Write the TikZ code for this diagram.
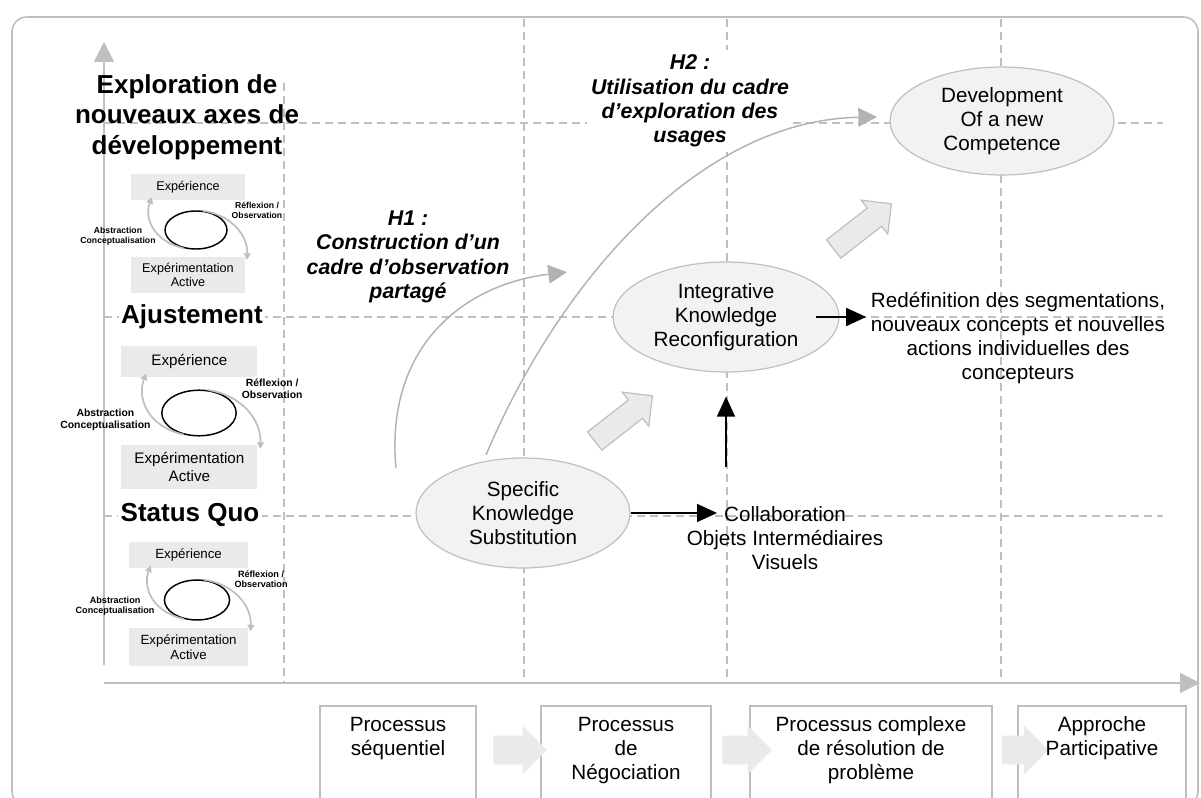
\documentclass[tikz,border=0pt]{standalone}
\usepackage{fontspec}
\setmainfont{Liberation Sans}
\usetikzlibrary{
    arrows.meta,
    positioning,
    shapes.geometric,
    shapes.arrows
}
\definecolor{linegray}{HTML}{BFBFBF}
\definecolor{curvegray}{HTML}{B2B2B2}
\definecolor{fillgray}{HTML}{F2F2F2}
\definecolor{boxgray}{HTML}{EAEAEA}
\newcommand{\mainsize}{\fontsize{15.5}{18}\selectfont}
\newcommand{\levelsize}{\fontsize{19.5}{23}\selectfont\bfseries}
\newcommand{\hyposize}{\fontsize{16}{18.2}\selectfont\bfseries\itshape}
\newcommand{\kolbsize}{\fontsize{9.5}{11}\selectfont}
\newcommand{\kolbnotesize}{\fontsize{6.5}{7.5}\selectfont\bfseries}
\tikzset{
    framebox/.style={draw=linegray, line width=1.2pt, rounded corners=11pt},
    gridline/.style={linegray, line width=1pt, dash pattern=on 6pt off 3.75pt},
    axisline/.style={-{Triangle[length=15pt, width=15pt]}, line width=1.5pt, linegray},
    stage/.style={ellipse, draw=linegray, fill=fillgray, line width=0.9pt,
        inner sep=0pt, align=center, font=\mainsize},
    plain/.style={align=center, font=\mainsize},
    level/.style={align=center, font=\levelsize, inner sep=2pt},
    hypo/.style={align=center, font=\hyposize},
    blackarrow/.style={-{Triangle[length=15pt, width=13.5pt]}, line width=1.1pt, black},
    hypoarrow/.style={-{Triangle[length=14pt, width=14pt]}, line width=1.1pt, curvegray},
    bigshift/.style={single arrow, draw=linegray, fill=boxgray, line width=0.9pt,
        inner xsep=0pt, inner ysep=8.25pt, single arrow head extend=7.5pt,
        minimum height=55pt, rotate=38},
    procbox/.style={draw=linegray, fill=white, line width=0.9pt, minimum height=78pt},
    proctext/.style={align=center, font=\mainsize, anchor=north},
    flowpointer/.style={single arrow, fill=boxgray, inner xsep=0pt, inner ysep=10.5pt,
        single arrow head extend=7.5pt},
    kolbbox/.style={fill=boxgray, minimum width=85pt, align=center, font=\kolbsize, inner sep=1pt},
    kolbloop/.style={ellipse, draw=black, line width=1.1pt, minimum width=46.5pt,
        minimum height=28.5pt, inner sep=0pt},
    kolbarc/.style={-{Triangle[length=5pt, width=5pt]}, line width=1.3pt, linegray},
    kolbnote/.style={align=center, font=\kolbnotesize, inner sep=0pt}
}
% one learning cycle: name, centre x, centre y, scale
\newcommand{\kolbcycle}[4]{%
    \begin{scope}[shift={(#2,#3)}, scale=#4, transform shape]
        \node[kolbbox, minimum height=19pt] (#1exp) at (-8,-43) {Expérience};
        \node[kolbbox, minimum height=27pt] (#1act) at (-8,45) {Expérimentation\\Active};
        \node[kolbloop] (#1loop) at (0,0) {};
        \coordinate (#1expin) at (-44,-33);
        \coordinate (#1actin) at (51,30);
        \draw[kolbarc] (#1loop.235) .. controls (-46,10) and (-51,-15) .. (#1expin);
        \draw[kolbarc] (#1loop.70) .. controls (35,-15) and (52,5) .. (#1actin);
        \node[kolbnote] (#1refl) at (61,-20) {Réflexion /\\Observation};
        \node[kolbnote] (#1abst) at (-78,6) {Abstraction\\Conceptualisation};
    \end{scope}}

\begin{document}
\begin{tikzpicture}[x=0.75pt, y=-0.75pt]
    \useasboundingbox (0,0) rectangle (1201,798);
    \clip (0,0) rectangle (1201,798);
    \draw[framebox] (12,17) rectangle (1198,806);
    % grid
    \foreach \gx/\gtop in {284/83, 524/19, 727/19, 1001/19}{
        \draw[gridline] (\gx,\gtop) -- (\gx,683);
    }
    \foreach \gy in {123,317,516}{
        \draw[gridline] (104,\gy) -- (1163,\gy);
    }
    % axes
    \coordinate (origin) at (104,683);
    \coordinate (ytop) at (104,42);
    \coordinate (xend) at (1200,683);
    \draw[axisline] ([yshift=13.5pt]origin) -- (ytop);
    \draw[axisline] (origin) -- (xend);

    % levels on the vertical axis
    \node[level] (explore) at (187,117) {Exploration de\\nouveaux axes de\\développement};
    \node[level, fill=white] (adjust) at (192,317) {Ajustement};
    \node[level, fill=white] (statusquo) at (190,515) {Status Quo};
    \kolbcycle{kolbA}{196}{230}{1}
    \kolbcycle{kolbB}{199}{413}{1.2}
    \kolbcycle{kolbC}{197}{600}{1.05}

    % hypotheses
    \node[hypo] (hypoA) at (408,257) {H1 :\\Construction d’un\\cadre d’observation\\partagé};
    \node[hypo, fill=white] (hypoB) at (690,101) {H2 :\\Utilisation du cadre\\d’exploration des\\usages};
    \coordinate (hypoAfrom) at (396,468);
    \coordinate (hypoAto) at (567,272);
    \coordinate (hypoBfrom) at (486,455);
    \coordinate (hypoBto) at (877,117);
    \draw[hypoarrow] (hypoAfrom) .. controls (385,350) and (460,285) .. (hypoAto);
    \draw[hypoarrow] (hypoBfrom) .. controls (560,280) and (700,120) .. (hypoBto);

    % stages
    \node[stage, minimum width=160.5pt, minimum height=82.5pt] (specific) at (523,513)
        {Specific\\Knowledge\\Substitution};
    \node[stage, minimum width=169.5pt, minimum height=82.5pt] (integ) at (726,317)
        {Integrative\\Knowledge\\Reconfiguration};
    \node[stage, minimum width=168pt, minimum height=81pt] (develop) at (1002,121)
        {Development\\Of a new\\Competence};
    \node[plain] (collab) at (785,538) {Collaboration\\Objets Intermédiaires\\Visuels};
    \node[plain] (redef) at (1018,338)
        {Redéfinition des segmentations,\\nouveaux concepts et nouvelles\\actions individuelles des\\concepteurs};
    \node[bigshift] (shiftA) at (619,422) {};
    \node[bigshift] (shiftB) at (858,230) {};

    \draw[blackarrow] (specific.east) -- ([xshift=-51pt]collab.center |- specific.east);
    \draw[blackarrow] ([yshift=26pt]collab.north -| integ.south) -- ([yshift=-18pt]integ.south);
    \draw[blackarrow] ([xshift=-18pt]integ.east) -- (redef.west |- integ.east);

    % processes
    \node[procbox, minimum width=117pt] (procA) at (398,758) {};
    \node[procbox, minimum width=127.5pt] (procB) at (626,758) {};
    \node[procbox, minimum width=181.5pt] (procC) at (871,758) {};
    \node[procbox, minimum width=126pt] (procD) at (1102,758) {};
    \node[flowpointer, minimum height=40pt] (flowA) at (513,750) {};
    \node[flowpointer, minimum height=37pt] (flowB) at (740,750) {};
    \node[flowpointer, minimum height=35pt] (flowC) at (1018,750) {};
    \node[proctext] (procAtext) at ([yshift=-5pt]procA.north) {Processus\\séquentiel};
    \node[proctext] (procBtext) at ([yshift=-5pt]procB.north) {Processus\\de\\Négociation};
    \node[proctext] (procCtext) at ([yshift=-5pt]procC.north) {Processus complexe\\de résolution de\\problème};
    \node[proctext] (procDtext) at ([yshift=-5pt]procD.north) {Approche\\Participative};
\end{tikzpicture}
\end{document}
